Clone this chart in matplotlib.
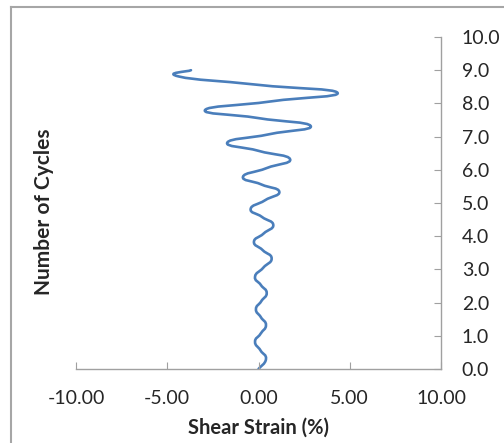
import numpy as np
import matplotlib
matplotlib.use("Agg")
import matplotlib.pyplot as plt
from matplotlib.path import Path
from matplotlib.patches import PathPatch
from matplotlib.lines import Line2D

# data (peaks and crossings)
cycles = [0.00, 0.30, 0.56, 0.82, 1.06, 1.32, 1.56, 1.80, 2.04, 2.29,
          2.53, 2.78, 3.05, 3.33, 3.58, 3.83, 4.08, 4.34, 4.58, 4.82,
          5.08, 5.34, 5.56, 5.79, 6.05, 6.32, 6.57, 6.82, 7.07, 7.32,
          7.56, 7.80, 8.06, 8.32, 8.56, 8.81, 9.00]
strain = [0.00, 0.41, 0.11, -0.19, 0.11, 0.41, 0.13, -0.14, 0.15, 0.45,
          0.13, -0.19, 0.26, 0.72, 0.23, -0.25, 0.28, 0.81, 0.19, -0.43,
          0.35, 1.14, 0.15, -0.85, 0.44, 1.73, 0.01, -1.71, 0.58, 2.86,
          -0.04, -2.93, 0.68, 4.33, -0.04, -4.36, -3.70]

x_ticks = [-10, -5, 0, 5, 10]
y_ticks = [0, 1, 2, 3, 4, 5, 6, 7, 8, 9, 10]

plt.rcParams['font.family'] = ['Lato', 'DejaVu Sans']

fig = plt.figure(figsize=(5.04, 4.43), dpi=100)
ax = fig.add_axes([76/504, 1 - 369/443, 365/504, 332/443])


# smoothed line like Excel: catmull-rom turned into bezier segments
def smooth_path(xs, ys, kx=1.0, ky=1.0):
    pts = np.column_stack([xs, ys])
    k = np.array([kx, ky])
    n = len(pts)
    verts = [pts[0]]
    codes = [Path.MOVETO]
    for i in range(n - 1):
        p0 = pts[max(i - 1, 0)]
        p1 = pts[i]
        p2 = pts[i + 1]
        p3 = pts[min(i + 2, n - 1)]
        c1 = p1 + k * (p2 - p0) / 6
        c2 = p2 - k * (p3 - p1) / 6
        verts += [c1, c2, p2]
        codes += [Path.CURVE4] * 3
    return Path(verts, codes)


path = smooth_path(strain, cycles, kx=1.5, ky=1.6)
ax.add_patch(PathPatch(path, fill=False, edgecolor='#4a7ebb', lw=1.9,
                       capstyle='round', joinstyle='round'))

ax.set_xlim(-10, 10)
ax.set_ylim(0, 10)
ax.set_xticks(x_ticks)
ax.set_yticks(y_ticks)
ax.set_xticklabels([f"{v:.2f}" for v in x_ticks])
ax.set_yticklabels([f"{v:.1f}" for v in y_ticks])

for s in ['top', 'left']:
    ax.spines[s].set_visible(False)
for s in ['bottom', 'right']:
    ax.spines[s].set_color('#a0a0a0')
    ax.spines[s].set_linewidth(1.0)

ax.yaxis.tick_right()
ax.tick_params(axis='x', direction='in', length=5, color='#a0a0a0',
               labelsize=14, pad=15, labelcolor='#262626')
ax.tick_params(axis='y', direction='in', length=5, color='#a0a0a0',
               labelsize=14, pad=15, labelcolor='#262626')

ax.set_xlabel('Shear Strain (%)', fontsize=14.5, fontweight='bold',
              color='#262626', labelpad=8)
fig.text(44/504, 1 - 212/443, 'Number of Cycles', rotation=90,
         ha='center', va='center', fontsize=15, fontweight='bold',
         color='#262626')

# chart area border (cut off at right/bottom)
bx = 11/504
by = 1 - 7/443
fig.add_artist(Line2D([bx, bx], [0, by], transform=fig.transFigure,
                      color='#a6a6a6', lw=1.5))
fig.add_artist(Line2D([bx, 1], [by, by], transform=fig.transFigure,
                      color='#a6a6a6', lw=1.5))

fig.savefig('out.png', dpi=100)
